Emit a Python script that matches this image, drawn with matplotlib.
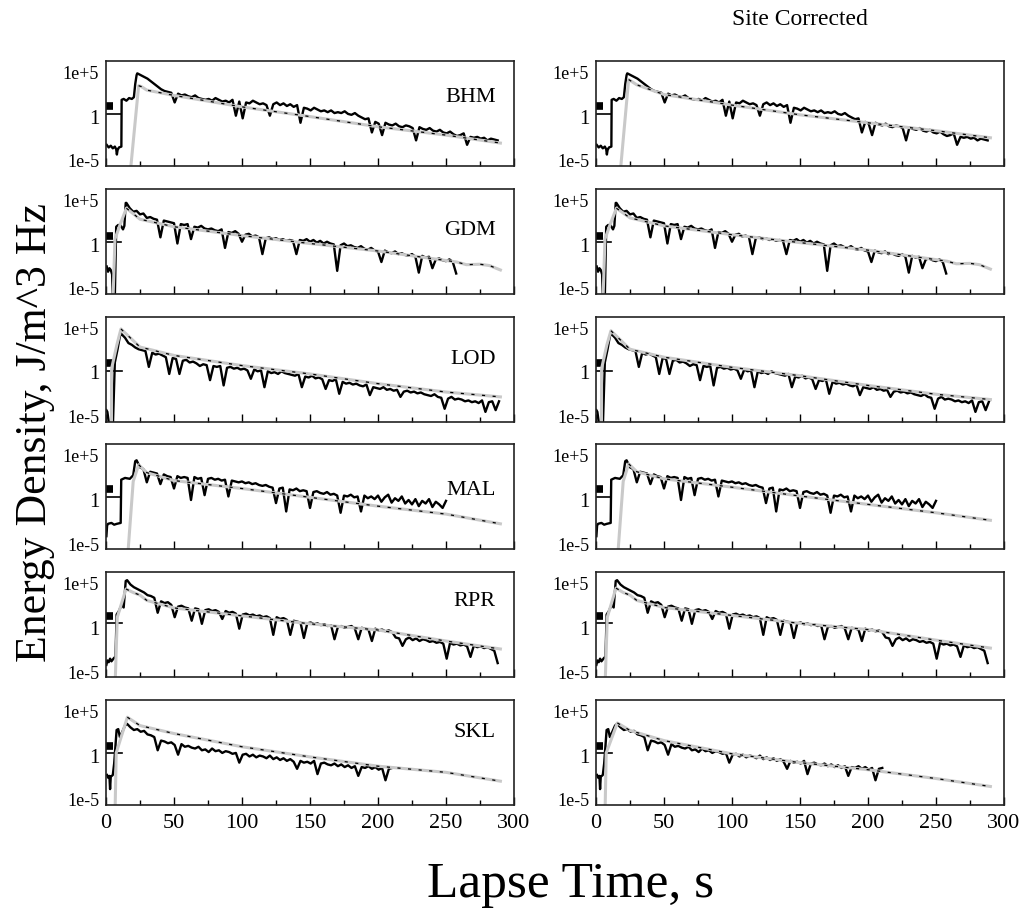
import numpy as np
import matplotlib
matplotlib.use("Agg")
import matplotlib.pyplot as plt
from matplotlib.ticker import MultipleLocator, NullLocator

plt.rcParams['font.family'] = ['Liberation Serif', 'DejaVu Serif']

stations = ["BHM", "GDM", "LOD", "MAL", "RPR", "SKL"]
dt = 2.5  # coda sample spacing, s

# ---- black traces: log10 energy density ----
bhm_onset_t = [0.5, 2, 3.5, 5, 6.5, 7.5, 8, 8.5, 9.5, 11.3, 11.5, 13, 15, 17, 19, 20.5, 21.5, 22.5]
bhm_onset_v = [-3.3, -3.6, -3.4, -3.7, -3.5, -3.8, -4.4, -3.9, -3.6, -3.5, 1.8, 1.9, 1.7, 2.0, 1.9, 2.1, 3.6, 4.6]
bhm_t0 = 23.0
bhm_coda = [4.8, 4.6, 4.4, 4.2, 3.9, 3.6, 3.3, 3.0, 2.8, 2.7,
            2.6, 1.5, 2.5, 2.3, 2.4, 2.2, 2.1, 2.3, 2.0, 1.9,
            1.8, 1.9, 1.7, 2.0, 1.8, 1.6, 1.7, 1.5, 1.8, 0.0,
            1.6, -0.3, 1.5, 1.4, 1.7, 1.5, 1.3, 1.4, 1.2, 0.0,
            1.3, 1.5, 1.2, 1.4, 1.1, 1.3, 1.0, 1.2, -0.8, 0.9,
            0.8, 0.6, 0.9, 0.7, 0.5, 0.6, 0.4, 0.6, 0.3, 0.4,
            0.3, 0.5, 0.2, 0.1, 0.3, 0.0, -0.2, -0.4, -0.3, -1.9,
            -0.7, -0.9, -2.2, -0.8, -1.0, -1.1, -0.9, -1.2, -1.3, -1.1,
            -1.2, -1.4, -2.8, -1.3, -1.5, -1.6, -1.4, -1.7, -1.8, -1.6,
            -1.9, -2.0, -1.8, -2.1, -2.3, -2.2, -2.0, -3.3, -2.4, -2.5,
            -2.4, -2.6, -2.5, -2.8, -2.6, -2.7, -2.8]

gdm_onset_t = [0.5, 1.5, 2.5, 3.5, 4.5, 5.0, 6.5, 7.5, 9, 11, 12.5, 13.5, 14.5]
gdm_onset_v = [-2.6, -3.2, -2.8, -3.0, -3.5, -6.0, -6.0, 1.9, 2.1, 2.0, 1.6, 2.0, 4.6]
gdm_t0 = 15.0
gdm_coda = [4.6, 4.0, 3.6, 3.7, 3.3, 3.4, 2.9, 3.0, 2.8, 2.7,
            0.7, 2.6, 2.5, 2.4, 2.3, 0.0, 2.2, 2.1, 2.2, 0.5,
            1.9, 1.8, 2.0, 1.7, 1.6, 1.7, 1.5, 1.4, 1.6, -0.5,
            1.3, 1.2, 1.4, 1.1, 0.2, 1.0, 1.1, 0.8, 0.9, 0.7,
            -1.2, 0.6, 0.7, 0.5, 0.6, 0.4, 0.5, 0.3, 0.4, 0.3,
            -1.2, 0.4, 0.3, 0.5, 0.2, 0.4, 0.1, 0.3, 0.0, 0.2,
            0.0, -0.1, -3.1, -0.2, 0.0, -0.3, -0.2, -0.4, -0.5, -0.3,
            -0.6, -0.7, -0.5, -0.8, -0.9, -2.1, -0.8, -1.0, -1.1, -0.9,
            -1.2, -1.1, -1.3, -1.4, -1.2, -1.5, -3.3, -1.4, -1.6, -1.5,
            -2.8, -1.8, -1.7, -1.9, -2.0, -1.8, -2.1, -3.4]

lod_onset_t = [0.3, 1.0, 1.8, 2.5, 5.0, 6.5, 8.5, 10.0, 10.8]
lod_onset_v = [-4.4, -4.6, -5.5, -6.5, -6.5, 1.0, 2.5, 3.8, 4.3]
lod_t0 = 11.5
lod_coda = [4.2, 3.8, 3.2, 3.0, 2.7, 2.5, 2.4, 2.3, 0.5, 2.1,
            1.9, 2.0, 1.8, 1.6, -0.3, 1.5, 1.4, -0.3, 1.2, 1.3,
            1.0, 1.1, 0.9, 0.6, 0.8, 0.7, -1.0, 0.6, 0.5, 0.6,
            -1.6, 0.4, 0.5, 0.3, 0.4, 0.2, 0.3, 0.1, -0.85, 0.2,
            0.0, 0.1, -1.8, 0.0, -0.2, -0.1, -0.3, 0.0, -0.2, -0.3,
            -0.4, -0.5, -0.3, -1.8, -0.6, -0.7, -0.5, -0.8, -0.7, -0.9,
            -2.0, -1.0, -1.1, -0.9, -2.55, -1.2, -1.4, -1.3, -1.5, -1.4,
            -1.6, -1.7, -1.5, -2.7, -1.8, -1.9, -2.0, -1.8, -2.1, -2.0,
            -2.2, -2.1, -2.9, -2.3, -2.2, -2.4, -2.3, -2.5, -2.4, -2.6,
            -2.7, -2.8, -2.6, -2.9, -3.0, -4.25, -3.1, -2.9, -3.2, -3.1,
            -3.2, -3.4, -3.3, -3.5, -3.4, -3.6, -3.3, -4.6, -3.5, -3.4,
            -4.4, -3.4]

mal_onset_t = [0.3, 0.8, 1.5, 4, 6, 8, 10.8, 11.2, 14, 17.5, 20, 21.5]
mal_onset_v = [-4.2, -3.0, -2.8, -2.7, -2.9, -2.8, -2.7, 2.2, 2.4, 2.3, 2.7, 4.3]
mal_t0 = 22.5
mal_coda = [4.4, 3.6, 3.4, 1.9, 3.1, 3.0, 2.9, 1.7, 2.8, 2.6,
            2.5, 1.2, 2.6, 2.4, 2.5, 2.4, -0.1, 2.5, 2.3, 2.4,
            0.45, 2.3, 2.4, 2.2, 2.3, 2.1, 2.2, 0.3, 2.1, 2.0,
            1.9, 2.0, 1.8, 1.9, 1.7, 1.8, 1.6, 1.5, 1.6, 1.4,
            1.3, -0.45, 1.2, 1.3, -1.4, 1.1, 1.0, 1.2, 0.9, 1.0,
            0.9, -1.0, 0.8, 0.9, 0.7, 0.6, 0.8, 0.5, 0.6, 0.4,
            -1.55, 0.4, 0.3, 0.5, 0.2, 0.3, -1.4, 0.4, 0.1, 0.3,
            0.0, 0.4, -0.3, 0.2, 0.5, -0.4, 0.1, -0.2, 0.3, -0.5,
            -0.1, -0.6, 0.0, -0.8, -0.2, -0.5, 0.0, -0.9, -0.3, -0.6,
            -1.0, -0.2]

rpr_onset_t = [0.3, 1.0, 2.0, 3.0, 4.0, 5.0, 6.0, 7.0, 7.8, 9.5, 11.5, 13.0, 14.5]
rpr_onset_v = [-4.3, -3.8, -4.0, -3.6, -3.9, -3.7, -3.5, -3.4, 1.4, 1.8, 2.5, 2.2, 5.2]
rpr_t0 = 15.5
rpr_coda = [5.3, 4.8, 4.5, 4.3, 4.1, 3.9, 3.6, 3.5, 3.3, 1.6,
            2.9, 2.7, 2.8, 2.5, 1.1, 2.3, 2.4, 2.2, 2.1, 0.7,
            2.1, 2.0, 0.35, 1.9, 2.0, 1.8, 1.9, 1.7, 0.9, 1.8,
            1.6, 1.7, 1.5, -0.2, 1.4, 1.5, 1.3, 1.4, 1.2, 1.3,
            1.1, 1.2, 1.0, -0.9, 1.1, 0.9, 1.0, 0.8, -0.9, 0.7,
            0.6, 0.5, -1.25, 0.4, 0.5, 0.3, 0.4, 0.2, 0.3, 0.1,
            0.2, -1.4, 0.0, 0.1, -0.1, 0.0, 0.1, -0.2, -1.4, -0.1,
            -0.2, -0.3, -1.6, -0.2, -0.4, -0.3, -0.5, -0.4, -0.6, -1.2,
            -1.3, -2.15, -1.4, -1.2, -1.5, -1.3, -1.6, -1.4, -1.5, -1.7,
            -1.6, -1.8, -1.7, -1.9, -3.6, -1.8, -2.0, -1.9, -2.1, -2.0,
            -2.2, -3.4, -2.1, -2.3, -2.2, -2.4, -2.3, -2.5, -2.7, -4.1]

skl_onset_t = [0.8, 1.5, 2.5, 3.0, 3.5, 5.0, 6.0, 7.8, 9.0, 10.2, 12.0, 14.0]
skl_onset_v = [-2.3, -2.6, -2.4, -3.9, -2.5, -2.3, -1.0, 2.8, 2.9, 2.0, 2.6, 3.3]
skl_t0 = 15.5
skl_coda = [3.5, 3.1, 2.8, 2.9, 2.6, 2.7, 2.3, 2.2, 2.0, 0.5,
            1.6, 1.5, 1.3, 1.4, 1.1, 0.0, 1.2, 0.9, 1.0, 0.8,
            0.7, 0.9, 0.5, 0.6, 0.3, 0.7, 0.4, 0.5, 0.2, 0.4,
            0.3, 0.1, 0.2, -0.9, 0.0, 0.1, -0.2, 0.0, -0.3, -0.1,
            -0.2, -0.4, -0.1, -0.5, -0.3, -0.6, -0.4, -0.7, -0.5, -0.8,
            -1.6, -0.7, -0.9, -0.8, -1.0, -0.7, -2.2, -1.0, -0.9, -1.1,
            -1.2, -1.0, -1.3, -1.1, -1.4, -1.2, -1.5, -1.3, -2.4, -1.4,
            -1.5, -1.3, -1.6, -1.4, -1.7, -1.5, -2.9, -1.6, -1.5]

# ---- gray model curves (log10), left = raw, right = site corrected ----
bhm_model_t = [17.5, 24, 26, 30, 50, 100, 150, 200, 250, 290]
bhm_model_left = [-7, 3.4, 3.3, 2.9, 2.3, 1.0, -0.1, -1.25, -2.2, -3.1]
bhm_model_right = [-7, 4.1, 3.9, 3.5, 2.4, 1.2, 0.1, -0.8, -1.7, -2.5]

gdm_model_t = [5, 6.6, 10, 15, 25, 50, 100, 150, 200, 258, 265, 275, 282, 290]
gdm_model_left = [-7, 0.5, 2.0, 4.0, 2.75, 1.9, 0.9, 0.0, -0.85, -2.1, -2.4, -2.35, -2.5, -3.0]
gdm_model_right = [-7, 0.5, 2.0, 4.0, 2.9, 2.0, 1.0, 0.1, -0.75, -2.0, -2.3, -2.25, -2.4, -2.9]

lod_model_t = [4, 4.1, 8, 11, 25, 50, 100, 150, 200, 250, 290]
lod_model_left = [-7, 0.3, 3.0, 4.8, 2.75, 1.8, 0.65, -0.3, -1.4, -2.35, -2.9]
lod_model_right = [-7, 0.3, 3.0, 4.6, 2.5, 1.6, 0.45, -0.5, -1.6, -2.6, -3.2]

mal_model_t = [15.7, 20, 24, 30, 50, 100, 150, 200, 250, 290]
mal_model_left = [-7, 2.0, 3.9, 3.0, 2.1, 1.2, 0.2, -0.8, -1.7, -2.8]
mal_model_right = [-7, 2.0, 4.0, 3.1, 2.3, 1.35, 0.35, -0.6, -1.55, -2.4]

rpr_model_t = [6.6, 8.3, 14.7, 20, 25, 30, 50, 100, 150, 200, 250, 290]
rpr_model_left = [-7, 1.1, 4.3, 3.9, 3.6, 3.0, 2.15, 1.25, 0.35, -0.35, -1.6, -2.5]
rpr_model_right = [-7, 1.1, 4.4, 3.9, 3.6, 3.0, 2.2, 1.3, 0.4, -0.3, -1.5, -2.4]

skl_model_t = [6.6, 7.5, 15.7, 25, 50, 100, 150, 200, 250, 290]
skl_model_left = [-7, 0.2, 4.25, 3.3, 2.4, 0.9, -0.25, -1.3, -2.0, -3.0]
skl_model_right = [-7, 0.2, 3.6, 2.75, 1.6, 0.1, -0.9, -1.7, -2.7, -3.6]

# pre-event noise marks (log10 levels)
noise_box = [1.05, 0.9, 0.95, 1.1, 1.25, 1.0]
noise_line = [0.25, 0.17, 0.0, 0.27, 0.45, 0.2]
noise_line_end = [11.3, 10.8, 11.5, 11.0, 11.5, 11.5]

label_y = [0.66, 0.61, 0.60, 0.57, 0.73, 0.70]

traces = [
    (bhm_onset_t, bhm_onset_v, bhm_t0, bhm_coda),
    (gdm_onset_t, gdm_onset_v, gdm_t0, gdm_coda),
    (lod_onset_t, lod_onset_v, lod_t0, lod_coda),
    (mal_onset_t, mal_onset_v, mal_t0, mal_coda),
    (rpr_onset_t, rpr_onset_v, rpr_t0, rpr_coda),
    (skl_onset_t, skl_onset_v, skl_t0, skl_coda),
]
models = [
    (bhm_model_t, bhm_model_left, bhm_model_right),
    (gdm_model_t, gdm_model_left, gdm_model_right),
    (lod_model_t, lod_model_left, lod_model_right),
    (mal_model_t, mal_model_left, mal_model_right),
    (rpr_model_t, rpr_model_left, rpr_model_right),
    (skl_model_t, skl_model_left, skl_model_right),
]

W, H = 1031, 912
fig = plt.figure(figsize=(W / 100, H / 100), dpi=100)

col_left = [106, 596]
ax_w, ax_h = 408, 105

for i, name in enumerate(stations):
    top = 62 + 127.8 * i
    on_t, on_v, t0, coda = traces[i]
    t = np.concatenate([on_t, t0 + dt * np.arange(len(coda))])
    v = np.concatenate([on_v, coda])
    mt, m_left, m_right = models[i]
    for j, mv in enumerate([m_left, m_right]):
        ax = fig.add_axes([col_left[j] / W, 1 - (top + ax_h) / H, ax_w / W, ax_h / H])
        ax.set_yscale('log')
        ax.set_xlim(0, 300)
        ax.set_ylim(10 ** -5.7, 10 ** 6.2)

        ax.plot([0.3, 5.0], [10 ** noise_box[i]] * 2, color='black', lw=5.5, solid_capstyle='butt')
        ax.plot([0, noise_line_end[i]], [10 ** noise_line[i]] * 2, color='black', lw=1.2)
        ax.plot(t, 10 ** v, color='black', lw=1.7)
        ax.plot(mt, 10 ** np.array(mv), color='#c9c9c9', lw=2.2)
        pk = int(np.argmax(mv))
        ax.plot(mt[pk:], 10 ** np.array(mv[pk:]), color='black', lw=0.9, ls=(0, (2.5, 6)))

        ax.set_yticks([1e-5, 1, 1e5])
        ax.set_yticklabels(['1e-5', '1', '1e+5'])
        ax.yaxis.set_minor_locator(NullLocator())
        for lab in ax.get_yticklabels():
            lab.set_fontsize(15 if lab.get_text() == '1' else 13)
        ax.tick_params(axis='y', length=0, pad=5)

        ax.xaxis.set_major_locator(MultipleLocator(50))
        ax.xaxis.set_minor_locator(MultipleLocator(25))
        ax.tick_params(axis='x', which='major', direction='in', length=6, width=1, top=False, labelsize=16, pad=6)
        ax.tick_params(axis='x', which='minor', direction='in', length=3.5, width=1, top=False)
        if i < len(stations) - 1:
            ax.tick_params(axis='x', labelbottom=False)
        for s in ax.spines.values():
            s.set_linewidth(1.2)
            s.set_color('#222222')
        if j == 0:
            ax.text(0.955, label_y[i], name, transform=ax.transAxes, ha='right', va='center', fontsize=16)

fig.text(0.776, 0.979, 'Site Corrected', ha='center', va='center', fontsize=17)
fig.text(0.034, 0.526, 'Energy Density, J/m^3 Hz', rotation=90, ha='center', va='center', fontsize=31.5)
fig.text(0.553, 0.030, 'Lapse Time, s', ha='center', va='center', fontsize=37)

fig.savefig('out.png', dpi=100)
